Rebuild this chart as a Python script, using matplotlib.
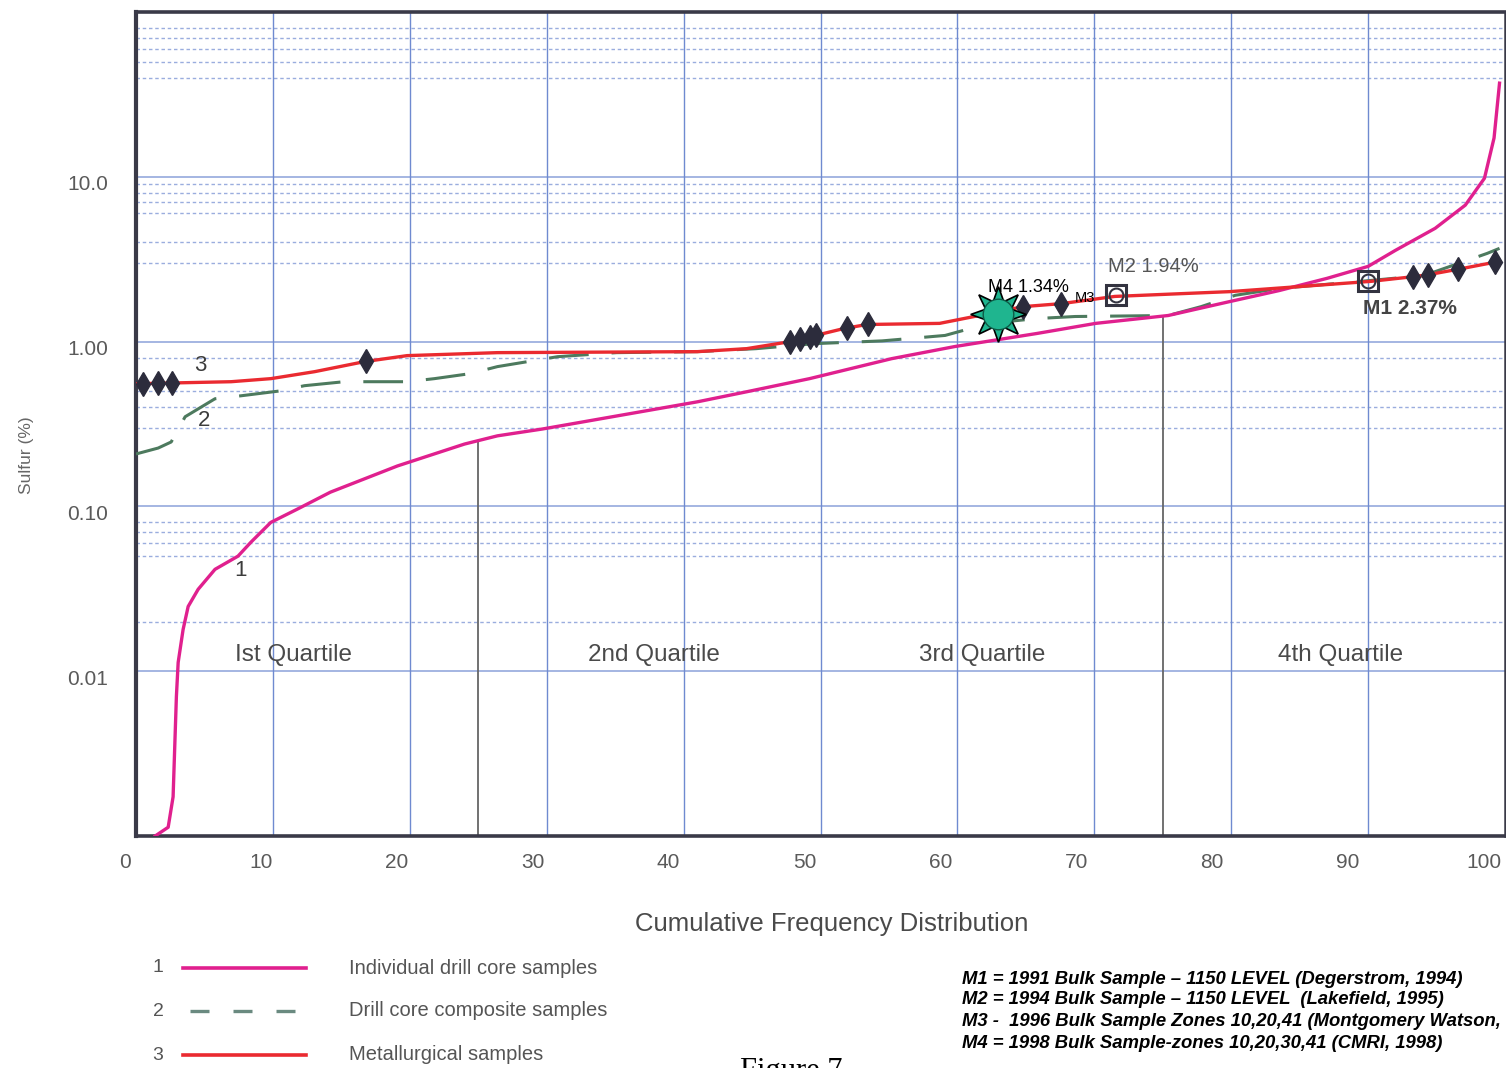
import numpy as np
import matplotlib
matplotlib.use("Agg")
import matplotlib.pyplot as plt
from matplotlib.lines import Line2D
from matplotlib.transforms import ScaledTranslation

plt.rcParams['font.family'] = ['Liberation Sans', 'DejaVu Sans']

# 1 - individual drill core samples (cumulative %, sulfur %)
cum1 = [1.4, 2.35, 2.71, 2.95, 3.08, 3.44, 3.81, 4.54, 5.77, 7.45, 8.4, 9.85, 11.8, 14.2,
        19.1, 24.0, 26.4, 29.7, 41.0, 44.6, 49.2, 55.2, 59.8, 65.8, 70.1, 75.4, 79.9,
        83.5, 87.0, 90.0, 92.0, 94.9, 97.1, 98.5, 99.2, 99.6]
sul1 = [0.001, 0.00113, 0.00173, 0.0070, 0.0113, 0.0179, 0.0247, 0.0314, 0.0415, 0.0499,
        0.0607, 0.080, 0.0964, 0.122, 0.176, 0.239, 0.268, 0.295, 0.431, 0.496, 0.596,
        0.788, 0.933, 1.12, 1.29, 1.44, 1.75, 2.04, 2.42, 2.86, 3.58, 4.87, 6.73, 9.8,
        17.2, 37.0]

# 2 - drill core composite samples
cum2 = [0.0, 1.62, 2.57, 3.59, 5.77, 7.67, 10.6, 12.3, 15.2, 19.8, 21.8, 24.4, 26.4, 30.8,
        35.1, 41.0, 45.3, 49.6, 54.5, 59.1, 62.3, 65.8, 68.6, 75.4, 77.8, 80.3, 83.5,
        90.2, 94.1, 98.7, 99.6]
sul2 = [0.208, 0.226, 0.246, 0.35, 0.45, 0.469, 0.503, 0.54, 0.571, 0.571, 0.596, 0.639,
        0.705, 0.81, 0.857, 0.869, 0.906, 0.972, 1.01, 1.09, 1.29, 1.38, 1.42, 1.44, 1.63,
        1.91, 2.10, 2.35, 2.52, 3.43, 3.68]

# 3 - metallurgical samples
cum3 = [0.0, 6.95, 9.85, 13.05, 16.7, 19.8, 26.4, 41.0, 44.6, 47.8, 51.7, 53.4, 58.7, 61.6,
        64.8, 67.6, 71.5, 79.9, 90.2, 94.1, 96.9, 99.6]
sul3 = [0.555, 0.571, 0.596, 0.657, 0.756, 0.822, 0.857, 0.869, 0.906, 1.0, 1.2, 1.27, 1.29,
        1.44, 1.63, 1.70, 1.88, 2.01, 2.32, 2.52, 2.78, 3.07]
# metallurgical sample points sitting on curve 3
met_pts = [0.53, 1.62, 2.64, 16.8, 47.8, 48.5, 49.2, 49.7, 51.9, 53.5, 64.8, 67.6,
           93.3, 94.4, 96.6, 99.3]

# bulk samples
m_names = ['M1', 'M3', 'M4']
m_cum = [90.0, 71.6, 63.0]
m_sul = [2.32, 1.91, 1.48]

x_ticks = [0, 10, 20, 30, 40, 50, 60, 70, 80, 90, 100]
y_ticks = [0.01, 0.1, 1.0, 10.0]
y_ticklabels = ['0.01', '0.10', '1.00', '10.0']
minor_levels = [40, 50, 60, 70, 80, 3, 4, 6, 7, 8, 9, 0.3, 0.4, 0.5, 0.8,
                0.02, 0.05, 0.06, 0.07, 0.08]
quartile_names = ['Ist Quartile', '2nd Quartile', '3rd Quartile', '4th Quartile']
quartile_x = [11.5, 37.8, 61.8, 88.0]

legend_names = ['Individual drill core samples', 'Drill core composite samples',
                'Metallurgical samples']
notes = ['M1 = 1991 Bulk Sample \u2013 1150 LEVEL (Degerstrom, 1994)',
         'M2 = 1994 Bulk Sample \u2013 1150 LEVEL  (Lakefield, 1995)',
         'M3 -  1996 Bulk Sample Zones 10,20,41 (Montgomery Watson,',
         'M4 = 1998 Bulk Sample-zones 10,20,30,41 (CMRI, 1998)']

PINK = '#e0208e'
RED = '#ea2a30'
GREEN = '#4d7a5e'
GRID = '#6f8ad0'
TXT = '#4a4a4a'

fig = plt.figure(figsize=(15.06, 10.68), dpi=100)
ax = fig.add_axes([136 / 1506, 1 - 836 / 1068, 1369 / 1506, 824 / 1068])
ax.set_yscale('log')

# grid
for v in range(10, 100, 10):
    ax.axvline(v, color=GRID, lw=1.0, zorder=1)
for v in y_ticks:
    ax.axhline(v, color=GRID, lw=1.1, alpha=0.8, zorder=1)
for v in minor_levels:
    ax.axhline(v, color=GRID, lw=1.0, ls=(0, (2.5, 2)), alpha=0.7, zorder=1)

# quartile drop lines
for q in [25, 75]:
    ax.vlines(q, 0.001, np.interp(q, cum1, sul1), color='#666666', lw=1.3, zorder=2)

ax.plot(cum1, sul1, color=PINK, lw=2.4, zorder=4)
ax.plot(cum2, sul2, color=GREEN, lw=2.2, ls=(0, (13, 7.5)), zorder=3)
ax.plot(cum3, sul3, color=RED, lw=2.4, zorder=5)

met_y = 10 ** np.interp(met_pts, cum3, np.log10(sul3))
ax.plot(met_pts, met_y, ls='none', marker='d', ms=12.5, color='#2c2c3c', zorder=6)

# bulk sample markers
for name, cx, cy in zip(m_names, m_cum, m_sul):
    if name == 'M4':
        ax.plot(cx, cy, marker=(8, 1, 0), ms=40, mfc='#1fb58f', mec='black', mew=1.2,
                ls='none', zorder=8)
        ax.plot(cx, cy, marker='o', ms=22, mfc='#1fb58f', mec='#0e5a46', mew=1.0,
                ls='none', zorder=9)
    else:
        ax.plot(cx, cy, marker='s', ms=15, mfc='none', mec='#333340', mew=2.2,
                ls='none', zorder=8)
        ax.plot(cx, cy, marker='o', ms=10, mfc='none', mec='#333340', mew=1.5,
                ls='none', zorder=8)

ax.text(62.2, 2.13, 'M4 1.34%', fontsize=13, color='black', ha='left', va='center', zorder=10)
ax.text(68.6, 1.85, 'M3', fontsize=10.5, color='black', ha='left', va='center', zorder=10)
ax.text(71.0, 2.86, 'M2 1.94%', fontsize=14.5, color='#555555', ha='left', va='center')
ax.text(89.6, 1.59, 'M1 2.37%', fontsize=15, color='#444444', ha='left', va='center',
        fontweight='bold')

# curve numbers
ax.text(4.7, 0.714, '3', fontsize=16, color='#3c3c3c', ha='center', va='center')
ax.text(5.0, 0.33, '2', fontsize=16, color='#3c3c3c', ha='center', va='center')
ax.text(7.6, 0.041, '1', fontsize=16, color='#3c3c3c', ha='center', va='center')

for name, qx in zip(quartile_names, quartile_x):
    ax.text(qx, 0.0125, name, fontsize=17.5, color=TXT, ha='center', va='center')

# axes, ticks
for side, w in zip(['left', 'bottom', 'top', 'right'], [3.0, 2.6, 2.6, 1.8]):
    ax.spines[side].set_linewidth(w)
    ax.spines[side].set_color('#3a3a48')
ax.set_xticks(x_ticks)
ax.set_xticklabels([str(v) for v in x_ticks])
ax.set_yticks(y_ticks)
ax.set_yticklabels(y_ticklabels)
ax.minorticks_off()
ax.set_xlim(0, 100)
ax.set_ylim(0.001, 100)
ax.tick_params(axis='both', length=0, labelsize=15, labelcolor='#5a5a5a')
ax.tick_params(axis='x', pad=12)
ax.tick_params(axis='y', pad=20)
# the printed scale drifts a little left of the grid
for v, lab in zip(x_ticks, ax.get_xticklabels()):
    dx = -(11 + 0.1 * v) / 100
    lab.set_transform(lab.get_transform() + ScaledTranslation(dx, 0, fig.dpi_scale_trans))
for lab in ax.get_yticklabels():
    lab.set_transform(lab.get_transform() + ScaledTranslation(0, -6 / 100, fig.dpi_scale_trans))

fig.text(27 / 1506, 1 - 455 / 1068, 'Sulfur (%)', rotation=90, fontsize=12.5,
         color='#666666', ha='center', va='center')
fig.text(832 / 1506, 1 - 924 / 1068, 'Cumulative Frequency Distribution', fontsize=18.5,
         color=TXT, ha='center', va='center')

# legend drawn by hand
leg_y = [968, 1011, 1055]
leg_x = [(183, 306), (190, 296), (183, 306)]
leg_styles = [dict(color=PINK, lw=2.6, ls='-'),
              dict(color='#6a8a80', lw=2.4, ls=(0, (5.7, 7.2))),
              dict(color=RED, lw=2.6, ls='-')]
for i, (name, py, (x0, x1), st) in enumerate(zip(legend_names, leg_y, leg_x, leg_styles)):
    fy = 1 - py / 1068
    fig.text(158 / 1506, fy, str(i + 1), fontsize=14, color='#555555', ha='center', va='center')
    fig.add_artist(Line2D([x0 / 1506, x1 / 1506], [fy, fy], transform=fig.transFigure, **st))
    fig.text(349 / 1506, fy, name, fontsize=14.5, color='#555555', ha='left', va='center')

for line, py in zip(notes, [980, 1000, 1022, 1043]):
    fig.text(962 / 1506, 1 - py / 1068, line, fontsize=13.3, fontweight='bold',
             fontstyle='italic', color='black', ha='left', va='center')

fig.text(740 / 1506, 1 - 1057 / 1068, 'Figure 7', fontsize=22, family='Liberation Serif',
         color='black', ha='left', va='top')

fig.savefig('out.png', dpi=100)
